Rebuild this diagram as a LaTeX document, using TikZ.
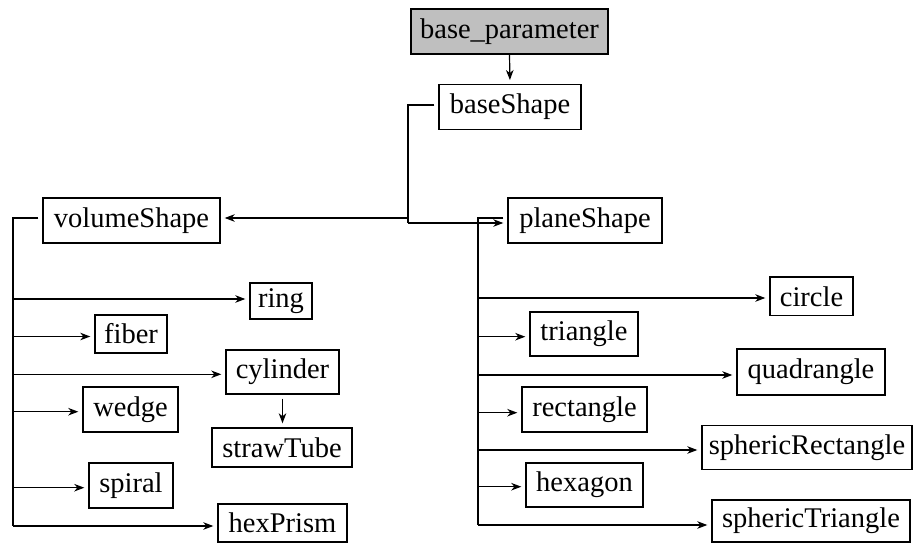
\documentclass[tikz,border=0pt]{standalone}
\usepackage{fontspec}
\setmainfont{Liberation Serif}
\usetikzlibrary{arrows.meta}
\begin{document}
\begin{tikzpicture}[x=1pt,y=-1pt,
  box/.style 2 args={draw, line width=1.4pt, minimum width=#1, minimum height=#2,
    inner sep=0pt, font=\fontsize{28.5}{32}\selectfont},
  arr/.style={line width=1.2pt, -{Stealth[length=10pt,width=7.5pt,inset=3pt]}, shorten >=4pt},
  trunk/.style={line width=2pt, shorten <=4pt}]
\useasboundingbox (0,0) rectangle (913,543);
% nodes
\node[box={197pt}{45pt}, fill=black!25] (bp) at (509.5,31.5) {base\_parameter};
\node[box={142pt}{44.5pt}] (baseShape) at (510,107) {baseShape};
\node[box={177pt}{45pt}] (volumeShape) at (131.5,220.5) {volumeShape};
\node[box={154pt}{45pt}] (planeShape) at (585,220.5) {planeShape};
\node[box={62pt}{36pt}] (ring) at (281,301) {ring};
\node[box={72pt}{38pt}] (fiber) at (131,334) {fiber};
\node[box={113pt}{44pt}] (cylinder) at (282.5,372) {cylinder};
\node[box={95pt}{45pt}] (wedge) at (130.5,409.5) {wedge};
\node[box={140pt}{39pt}] (strawTube) at (282,447.5) {strawTube};
\node[box={84pt}{45pt}] (spiral) at (131,485.5) {spiral};
\node[box={129pt}{38pt}] (hexPrism) at (282.5,523) {hexPrism};
\node[box={83pt}{38.5pt}] (circle) at (811.5,296.3) {circle};
\node[box={108pt}{44pt}] (triangle) at (584,334) {triangle};
\node[box={148pt}{46pt}] (quadrangle) at (811,372) {quadrangle};
\node[box={125pt}{45pt}] (rectangle) at (584.5,409.5) {rectangle};
\node[box={210pt}{43.5pt}] (sphericRectangle) at (807,447.5) {sphericRectangle};
\node[box={117pt}{44pt}] (hexagon) at (584.5,485) {hexagon};
\node[box={198pt}{42pt}] (sphericTriangle) at (811,521) {sphericTriangle};
% junction coordinates
\coordinate (bj) at (408,105);
\coordinate (bjV) at (408,218);
\coordinate (bjP) at (408,223);
\coordinate (vL) at (13,218);
\coordinate (vLb) at (13,526);
\coordinate (pR) at (478,218);
\coordinate (pRb) at (478,525);
% top
\draw[arr] (bp.south) -- (baseShape.north);
\draw[trunk] (bj -| baseShape.west) -- (bj) -- (bjP);
\draw[arr] (bjV) -- (bjV -| volumeShape.east);
\draw[arr] (bjP) -- (bjP -| planeShape.west);
% left trunk
\draw[trunk] (vL -| volumeShape.west) -- (vL) -- (vLb);
\coordinate (lRing) at (13,299);
\coordinate (lFiber) at (13,336.5);
\coordinate (lCyl) at (13,374.3);
\coordinate (lWedge) at (13,411.7);
\coordinate (lSpiral) at (13,487.7);
\coordinate (lHex) at (13,526);
\draw[arr] (lRing) -- (lRing -| ring.west);
\draw[arr] (lFiber) -- (lFiber -| fiber.west);
\draw[arr] (lCyl) -- (lCyl -| cylinder.west);
\draw[arr] (lWedge) -- (lWedge -| wedge.west);
\draw[arr] (lSpiral) -- (lSpiral -| spiral.west);
\draw[arr] (lHex) -- (lHex -| hexPrism.west);
\draw[arr, shorten <=4pt] (cylinder.south) -- (cylinder.south |- strawTube.north);
% right trunk
\draw[trunk] (pR -| planeShape.west) -- (pR) -- (pRb);
\coordinate (rCircle) at (478,298);
\coordinate (rTri) at (478,336.7);
\coordinate (rQuad) at (478,375);
\coordinate (rRect) at (478,412.7);
\coordinate (rSRect) at (478,450);
\coordinate (rHex) at (478,486.7);
\coordinate (rSTri) at (478,525);
\draw[arr] (rCircle) -- (rCircle -| circle.west);
\draw[arr] (rTri) -- (rTri -| triangle.west);
\draw[arr] (rQuad) -- (rQuad -| quadrangle.west);
\draw[arr] (rRect) -- (rRect -| rectangle.west);
\draw[arr] (rSRect) -- (rSRect -| sphericRectangle.west);
\draw[arr] (rHex) -- (rHex -| hexagon.west);
\draw[arr] (rSTri) -- (rSTri -| sphericTriangle.west);
\end{tikzpicture}
\end{document}
